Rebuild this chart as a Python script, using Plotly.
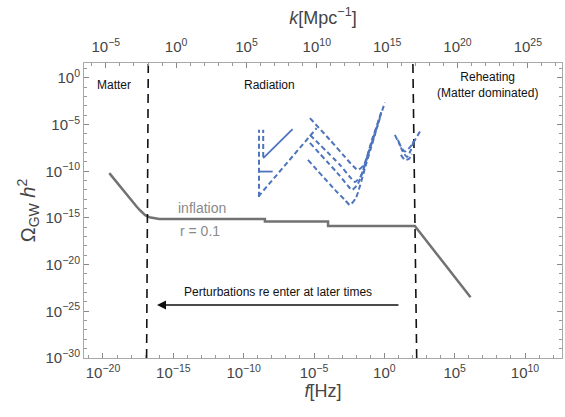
import plotly.graph_objects as go

# ---------------- data (log10 values) ----------------
# inflation spectrum (gray curve)
infl_logf = [-19.55, -18.5, -17.6, -17.35, -17.0, -16.7, -16.4, -16.0, -8.49, -8.49, -4.0, -4.0, 2.17, 6.13]
infl_logO = [-10.2, -12.2, -13.8, -14.2, -14.7, -14.92, -15.03, -15.1, -15.1, -15.39, -15.39, -15.85, -15.85, -23.5]

# horizon-crossing boundaries (bottom / top f positions)
bound_left_logf = [-16.9, -16.78]
bound_right_logf = [2.30, 2.03]
y_range = [-30, 1.6]

# sensitivity curves (blue)
pta_v1_logf = [-8.91, -8.91]
pta_v1_logO = [-12.74, -5.56]
pta_v2_logf = [-8.61, -8.61]
pta_v2_logO = [-8.46, -5.56]
pta_solid_logf = [-8.61, -6.52]
pta_solid_logO = [-8.6, -5.49]
pta_hor_logf = [-8.96, -7.94]
pta_hor_logO = [-10.03, -10.03]
pta_rise_logf = [-8.96, -4.81]
pta_rise_logO = [-12.71, -5.38]

space1_logf = [-5.29, -3.87, -2.80, -2.23, -1.88, -1.45, -0.88, -0.38, 0.04]
space1_logO = [-4.31, -6.63, -8.46, -9.42, -9.85, -9.31, -6.63, -4.49, -2.64]
space2_logf = [-5.29, -3.16, -2.45, -2.09, -1.66, -1.02, -0.17]
space2_logO = [-6.10, -9.31, -10.60, -11.14, -10.49, -7.49, -3.42]
space3_logf = [-5.29, -3.16, -2.59, -2.30, -1.88, -1.17, -0.31]
space3_logO = [-6.96, -10.49, -11.56, -11.99, -11.35, -8.24, -4.28]
space4_logf = [-5.43, -3.51, -2.80, -2.45, -2.02, -1.31, -0.46]
space4_logO = [-8.78, -11.99, -13.07, -13.60, -12.85, -9.31, -5.03]

ground1_logf = [0.75, 1.11, 1.46, 1.96, 2.53]
ground1_logO = [-6.10, -7.17, -7.89, -7.17, -5.74]
ground2_logf = [0.97, 1.32, 1.61, 1.89, 2.10]
ground2_logO = [-6.63, -7.92, -8.46, -7.71, -6.63]
ground3_logf = [1.18, 1.46, 1.75, 1.96]
ground3_logO = [-8.24, -8.78, -8.67, -8.13]

# axes
x_range = [-21.35, 12.63]
k_offset = 14.8  # log10(k/Mpc^-1) - log10(f/Hz)
f_major = [-20, -15, -10, -5, 0, 5, 10]
k_major = [-5, 0, 5, 10, 15, 20, 25]
O_major = [0, -5, -10, -15, -20, -25, -30]


def p10(v):
    return [10.0 ** a for a in v]


def sup(e):
    return "10<sup>" + (str(e) if e >= 0 else "\u2212" + str(-e)) + "</sup>"


BLUE = "#4d74bd"
GRAY = "#727272"
TXT = "#454545"
FONT = "Liberation Sans, Arial, sans-serif"

fig = go.Figure()

# inflation curve
fig.add_trace(go.Scatter(x=p10(infl_logf), y=p10(infl_logO), mode="lines",
                         line=dict(color=GRAY, width=2.5, shape="linear"), hoverinfo="skip"))

# boundaries
for b in (bound_left_logf, bound_right_logf):
    fig.add_trace(go.Scatter(x=p10(b), y=p10(y_range), mode="lines",
                             line=dict(color="#111111", width=1.6, dash="9px,6px"), hoverinfo="skip"))

dashed = [(pta_v1_logf, pta_v1_logO), (pta_v2_logf, pta_v2_logO), (pta_rise_logf, pta_rise_logO),
          (space1_logf, space1_logO), (space2_logf, space2_logO), (space3_logf, space3_logO),
          (space4_logf, space4_logO), (ground1_logf, ground1_logO), (ground2_logf, ground2_logO),
          (ground3_logf, ground3_logO)]
for fx, fy in dashed:
    fig.add_trace(go.Scatter(x=p10(fx), y=p10(fy), mode="lines",
                             line=dict(color=BLUE, width=2, dash="5px,3px", shape="spline", smoothing=0.6),
                             hoverinfo="skip"))
for fx, fy in [(pta_solid_logf, pta_solid_logO), (pta_hor_logf, pta_hor_logO)]:
    fig.add_trace(go.Scatter(x=p10(fx), y=p10(fy), mode="lines",
                             line=dict(color=BLUE, width=1.8), hoverinfo="skip"))

# dummy trace for top axis
fig.add_trace(go.Scatter(x=[10.0 ** (x_range[0] + k_offset)], y=[1e-29], xaxis="x2", mode="markers",
                         marker=dict(opacity=0), hoverinfo="skip"))

tickfont = dict(family=FONT, size=15, color=TXT)
fig.update_layout(
    width=565, height=417,
    margin=dict(l=84, r=3, t=63, b=59),
    paper_bgcolor="white", plot_bgcolor="white",
    showlegend=False,
    font=dict(family=FONT),
    xaxis=dict(type="log", range=x_range, showgrid=False, zeroline=False,
               showline=True, linecolor="#a8a8a8", linewidth=1,
               tickvals=p10(f_major), ticktext=[sup(e) for e in f_major],
               ticks="inside", ticklen=5, tickcolor="#888", tickfont=tickfont, ticklabelstandoff=1,
               minor=dict(tickvals=p10(list(range(-21, 13))), ticks="inside", ticklen=3, tickcolor="#999"),
               title=dict(text="<i>f</i>[Hz]", font=dict(family=FONT, size=18, color=TXT), standoff=4)),
    xaxis2=dict(type="log", range=[x_range[0] + k_offset, x_range[1] + k_offset], overlaying="x", side="top",
                showgrid=False, zeroline=False, showline=True, linecolor="#a8a8a8", linewidth=1,
                tickvals=p10(k_major), ticktext=[sup(e) for e in k_major],
                ticks="inside", ticklen=5, tickcolor="#888", tickfont=tickfont, ticklabelstandoff=4,
                minor=dict(tickvals=p10(list(range(-6, 28))), ticks="inside", ticklen=3, tickcolor="#999"),
                title=dict(text="<i>k</i>[Mpc<sup>\u22121</sup>]", font=dict(family=FONT, size=18, color=TXT), standoff=6)),
    yaxis=dict(type="log", range=y_range, showgrid=False, zeroline=False,
               showline=True, linecolor="#a8a8a8", linewidth=1, mirror="ticks",
               tickvals=p10(O_major), ticktext=[sup(e) for e in O_major],
               ticks="inside", ticklen=5, tickcolor="#888", tickfont=tickfont, ticklabelstandoff=0,
               minor=dict(tickvals=p10(list(range(-30, 2))), ticks="inside", ticklen=3, tickcolor="#999"),
               title=dict(text="\u03a9<sub>GW</sub> <i>h</i><sup>2</sup>", font=dict(family=FONT, size=20, color=TXT), standoff=4)),
)

labfont = dict(family=FONT, size=12, color="#111")
anns = [
    dict(x=-20.57, y=-0.74, text="Matter", xanchor="left"),
    dict(x=-8.13, y=-0.74, text="Radiation", xanchor="center"),
    dict(x=7.36, y=-0.74, text="Reheating<br>(Matter dominated)", xanchor="center"),
    dict(x=-7.56, y=-22.93, text="Perturbations re enter at later times", xanchor="center"),
]
for a in anns:
    fig.add_annotation(x=a["x"], y=a["y"], text=a["text"], xanchor=a["xanchor"], yanchor="middle",
                       showarrow=False, font=labfont, xref="x", yref="y")
for t, xx, yy in [("inflation", -12.99, -13.92), ("r = 0.1", -13.11, -16.39)]:
    fig.add_annotation(x=xx, y=yy, text=t, showarrow=False, font=dict(family=FONT, size=14, color="#8a8a8a"),
                       xref="x", yref="y")
# arrow
fig.add_annotation(x=-16.16, y=-24.32, ax=1.11, ay=-24.32, axref="x", ayref="y", xref="x", yref="y",
                   text="", showarrow=True, arrowhead=2, arrowsize=1.2, arrowwidth=1.5, arrowcolor="#111")

fig.write_html("out.html")
